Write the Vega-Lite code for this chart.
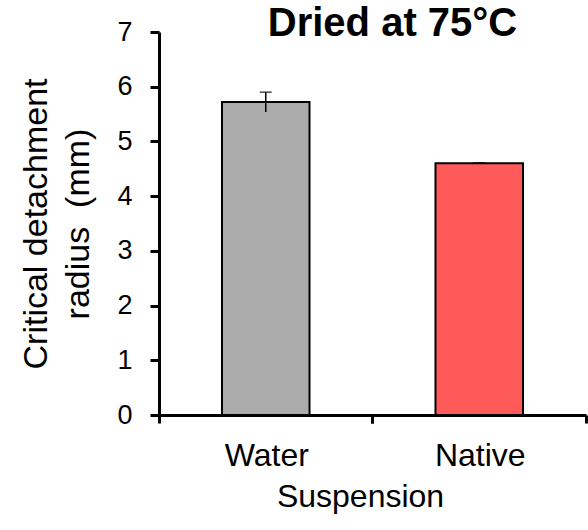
{
  "$schema": "https://vega.github.io/schema/vega-lite/v6.json",
  "autosize": "none",
  "width": 427,
  "height": 383,
  "padding": {"left": 159, "top": 32, "right": 2, "bottom": 115},
  "background": "white",
  "config": {
    "view": {"stroke": null},
    "font": "Liberation Sans",
    "axis": {"labelFont": "Liberation Sans", "titleFont": "Liberation Sans", "labelColor": "black", "titleColor": "black", "titleFontWeight": "normal",
      "domainColor": "black", "domainWidth": 3, "tickColor": "black", "tickWidth": 3, "grid": false},
    "axisX": {"labelFontSize": 32, "titleFontSize": 32, "labelAngle": 0, "tickSize": 8, "labelPadding": 17, "titlePadding": 10},
    "axisY": {"labelFontSize": 27, "titleFontSize": 34, "tickSize": 9, "labelPadding": 18, "titlePadding": 21, "titleLineHeight": 42}
  },
  "title": {"text": "Dried at 75°C", "fontSize": 40, "fontWeight": "bold", "font": "Liberation Sans", "color": "black", "anchor": "middle", "dx": 20, "offset": -66, "baseline": "bottom"},
  "data": {"values": [
    {"suspension": "Water", "radius": 5.72, "lo": 5.54, "hi": 5.90},
    {"suspension": "Native", "radius": 4.60, "lo": 4.59, "hi": 4.61}
  ]},
  "resolve": {"axis": {"x": "independent"}},
  "layer": [
    {
      "mark": {"type": "bar", "width": {"band": 0.41}, "stroke": "black", "strokeWidth": 2},
      "encoding": {
        "x": {"field": "suspension", "type": "nominal", "sort": ["Water", "Native"],
          "scale": {"paddingInner": 0, "paddingOuter": 0},
          "axis": {"orient": "bottom", "title": "Suspension", "bandPosition": 0, "labelOffset": 1, "titleX": 201}},
        "y": {"field": "radius", "type": "quantitative",
          "scale": {"domain": [0, 7], "nice": false},
          "axis": {"title": ["Critical detachment", "radius\u00a0 (mm)"], "values": [0, 1, 2, 3, 4, 5, 6, 7], "format": "d"}},
        "fill": {"field": "suspension", "type": "nominal", "scale": {"domain": ["Water", "Native"], "range": ["#ababab", "#ff5a5a"]}, "legend": null}
      }
    },
    {
      "mark": {"type": "rule", "color": "black", "strokeWidth": 1.5},
      "encoding": {
        "x": {"field": "suspension", "type": "nominal", "sort": ["Water", "Native"],
          "axis": {"orient": "bottom", "title": null, "labels": false, "domain": false, "bandPosition": 1}},
        "y": {"field": "lo", "type": "quantitative"},
        "y2": {"field": "hi"}
      }
    },
    {
      "mark": {"type": "tick", "color": "black", "thickness": 1.5, "size": 12},
      "encoding": {
        "x": {"field": "suspension", "type": "nominal", "sort": ["Water", "Native"], "axis": null},
        "y": {"field": "hi", "type": "quantitative"}
      }
    }
  ]
}
